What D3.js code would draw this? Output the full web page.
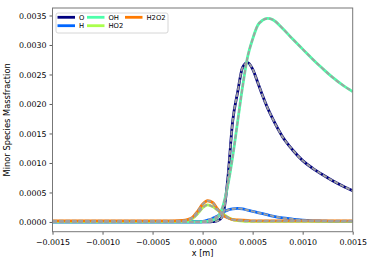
<!DOCTYPE html>
<html>
<head>
<meta charset="utf-8">
<script src="https://cdn.jsdelivr.net/npm/d3@7"></script>
<style>
  body { margin: 0; background: #fff; }
  svg { font-family: "DejaVu Sans", sans-serif; }
</style>
</head>
<body>
<script>
// x positions [m] shared by all species
const xs = [-0.0015, -0.0010, -0.0005, -0.0003, -0.0002, -0.00015, -0.0001, -0.00005,
  0, 0.00005, 0.0001, 0.00015, 0.0002, 0.00025, 0.0003, 0.00035, 0.0004, 0.00045,
  0.0005, 0.00055, 0.0006, 0.00065, 0.0007, 0.0008, 0.0009, 0.001, 0.0011, 0.0012,
  0.0013, 0.0014, 0.0015];

const species = ["O", "H", "OH", "HO2", "H2O2"];
const colors = ["#00007f", "#0066ff", "#4dffaa", "#aaff4d", "#ff7a00"];

const valO = [0, 0, 0, 0, 0, 0, 0, 0, 0, 0, 0.000005, 0.00002, 0.0001, 0.0007, 0.0017,
  0.0022, 0.00262, 0.0027, 0.00259, 0.00237, 0.00214, 0.00193, 0.00175, 0.00144, 0.00122,
  0.00104, 0.00091, 0.0008, 0.0007, 0.00061, 0.00053];
const valH = [0, 0, 0, 0, 0, 0, 0, 0.000002, 0.000008, 0.00003, 0.00006, 0.0001, 0.00016,
  0.0002, 0.00022, 0.00023, 0.00022, 0.0002, 0.00018, 0.00016, 0.00014, 0.00012, 0.0001,
  0.00007, 0.00005, 0.00003, 0.00002, 0.000015, 0.00001, 0.00001, 0.00001];
const valOH = [0, 0, 0, 0, 0, 0, 0, 0, 0.000005, 0.00001, 0.00003, 0.00008, 0.00025,
  0.0006, 0.0011, 0.0017, 0.0023, 0.0028, 0.0031, 0.00333, 0.00342, 0.00345, 0.00343,
  0.00328, 0.0031, 0.00293, 0.00276, 0.0026, 0.00245, 0.00232, 0.00221];
const valHO2 = [0.00001, 0.00001, 0.00001, 0.00001, 0.000015, 0.00003, 0.00006, 0.00014,
  0.00024, 0.00029, 0.00026, 0.0002, 0.00014, 0.00008, 0.00004, 0.000025, 0.000015,
  0.00001, 0.00001, 0.00001, 0.00001, 0.00001, 0.00001, 0.00001, 0.00001, 0.00001,
  0.00001, 0.00001, 0.00001, 0.00001, 0.00001];
const valH2O2 = [0.00002, 0.00002, 0.00002, 0.00002, 0.000025, 0.00004, 0.00008, 0.00018,
  0.0003, 0.00036, 0.00033, 0.00022, 0.00012, 0.00007, 0.00004, 0.000035, 0.00003,
  0.000025, 0.00002, 0.00002, 0.00002, 0.00002, 0.00002, 0.00002, 0.00002, 0.00002,
  0.00002, 0.00002, 0.00002, 0.00002, 0.00002];
const seriesValues = [valO, valH, valOH, valHO2, valH2O2];

const xTicks = [-0.0015, -0.0010, -0.0005, 0, 0.0005, 0.0010, 0.0015];
const yTicks = [0, 0.0005, 0.0010, 0.0015, 0.0020, 0.0025, 0.0030, 0.0035];

let width = 374;
let height = 264;
let margin = { left: 52.5, right: 21.3, top: 8, bottom: 32.3 };

let svg = d3.select("body").append("svg")
  .attr("width", width)
  .attr("height", height);

let xScale = d3.scaleLinear()
  .domain([-0.0015, 0.0015])
  .range([margin.left, width - margin.right]);

let yScale = d3.scaleLinear()
  .domain([-0.000165, 0.003627])
  .range([height - margin.bottom, margin.top]);

// clip to plot area
svg.append("clipPath").attr("id", "clip")
  .append("rect")
  .attr("x", margin.left).attr("y", margin.top)
  .attr("width", width - margin.left - margin.right)
  .attr("height", height - margin.top - margin.bottom);

let line = d3.line()
  .x((d) => xScale(d[0]))
  .y((d) => yScale(d[1]))
  .curve(d3.curveMonotoneX);

let plot = svg.append("g").attr("clip-path", "url(#clip)");

let series = species.map((s, i) => ({
  name: s,
  color: colors[i],
  points: xs.map((x, j) => [x, seriesValues[i][j]])
}));

// coloured lines
plot.selectAll(".species")
  .data(series)
  .enter()
  .append("path")
  .attr("class", "species")
  .attr("fill", "none")
  .attr("stroke", (d) => d.color)
  .attr("stroke-width", 2.8)
  .attr("d", (d) => line(d.points));

// grey dashed overlay
plot.selectAll(".ref")
  .data(series)
  .enter()
  .append("path")
  .attr("class", "ref")
  .attr("fill", "none")
  .attr("stroke", "#a0a0a0")
  .attr("stroke-width", 1.9)
  .attr("stroke-dasharray", "4.5,2")
  .attr("d", (d) => line(d.points));

// axes
let xAxis = d3.axisBottom(xScale)
  .tickValues(xTicks)
  .tickFormat(d3.format(".4f"))
  .tickSizeOuter(0)
  .tickSize(3);

let yAxis = d3.axisLeft(yScale)
  .tickValues(yTicks)
  .tickFormat(d3.format(".4f"))
  .tickSizeOuter(0)
  .tickSize(3);

let gx = svg.append("g")
  .attr("transform", "translate(0," + (height - margin.bottom) + ")")
  .call(xAxis);
let gy = svg.append("g")
  .attr("transform", "translate(" + margin.left + ",0)")
  .call(yAxis);

[gx, gy].forEach((g) => {
  g.select(".domain").remove();
  g.selectAll("line").attr("stroke", "#333").attr("stroke-width", 0.8);
  g.selectAll("text").attr("fill", "#000").style("font-size", "7.9px")
    .style("font-family", "DejaVu Sans");
});
gx.selectAll("text").attr("dy", "0.95em");

// frame
svg.append("rect")
  .attr("x", margin.left)
  .attr("y", margin.top)
  .attr("width", width - margin.left - margin.right)
  .attr("height", height - margin.top - margin.bottom)
  .attr("fill", "none")
  .attr("stroke", "#777")
  .attr("stroke-width", 1);

// axis labels
svg.append("text")
  .attr("x", (margin.left + width - margin.right) / 2)
  .attr("y", 256)
  .attr("text-anchor", "middle")
  .style("font-size", "8.1px")
  .text("x [m]");

svg.append("text")
  .attr("transform", "translate(10," + ((margin.top + height - margin.bottom) / 2) + ") rotate(-90)")
  .attr("text-anchor", "middle")
  .style("font-size", "8.3px")
  .text("Minor Species Massfraction");

// legend
let legend = svg.append("g").attr("transform", "translate(56,13)");
legend.append("rect")
  .attr("width", 112)
  .attr("height", 20)
  .attr("rx", 2)
  .attr("fill", "#fff")
  .attr("fill-opacity", 0.8)
  .attr("stroke", "#ccc")
  .attr("stroke-width", 0.8);

let legendPos = [[1.5, 4.3], [1.5, 12.7], [31, 4.3], [31, 12.7], [69, 4.3]];
let items = legend.selectAll(".item")
  .data(series)
  .enter()
  .append("g")
  .attr("class", "item")
  .attr("transform", (d, i) => "translate(" + legendPos[i][0] + "," + legendPos[i][1] + ")");

items.append("line")
  .attr("x1", 0).attr("x2", 17.5)
  .attr("stroke", (d) => d.color)
  .attr("stroke-width", 2.8);

items.append("text")
  .attr("x", 21.5)
  .attr("dy", "0.35em")
  .style("font-size", "6.8px")
  .text((d) => d.name);
</script>
</body>
</html>
